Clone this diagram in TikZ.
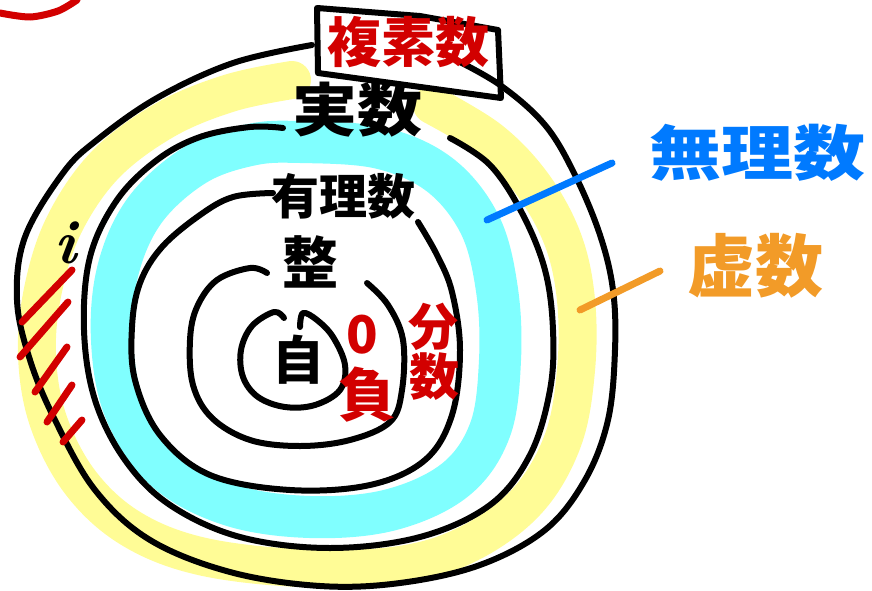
\documentclass[tikz,border=0pt]{standalone}
\usepackage{fontspec}
\newfontfamily\jp{Noto Sans CJK JP}
\definecolor{hlyellow}{RGB}{255,252,150}
\definecolor{hlcyan}{RGB}{128,255,255}
\definecolor{pred}{RGB}{210,0,0}
\definecolor{pblue}{RGB}{0,122,255}
\definecolor{porange}{RGB}{242,155,40}
\tikzset{
  ring/.style={draw=black,line width=6pt,line cap=round,line join=round},
  hl/.style={line width=#1,line cap=round,line join=round},
  lbl/.style={inner sep=0pt,font=\jp\bfseries},
  pen/.style={line width=7pt,line cap=round},
}
\newcommand{\fs}[1]{\fontsize{#1}{#1}\selectfont}
\begin{document}
\begin{tikzpicture}[x=1pt,y=-1pt]
\useasboundingbox (0,0) rectangle (872,591);
% highlight bands
\draw[hlyellow,hl=38pt] plot[smooth,tension=0.6] coordinates {(292,80) (230,93) (165,120) (105,165) (64,225) (43,290) (37,355) (48,420) (80,482) (130,528) (200,556) (300,568) (400,565) (470,543) (528,500) (563,440) (576,370) (576,300) (563,240) (533,185) (490,140) (432,105)};
\draw[hlcyan,hl=42pt] plot[smooth cycle,tension=0.6] coordinates {(300,142) (380,148) (440,175) (480,225) (497,290) (500,360) (490,430) (455,480) (390,510) (310,517) (230,505) (165,470) (125,410) (112,340) (118,270) (145,210) (195,165) (250,145)};
% outer ring
\draw[ring] plot[smooth,tension=0.6] coordinates {(450,57) (500,85) (545,125) (575,175) (600,235) (613,290) (615,350) (608,420) (585,480) (545,530) (480,565) (400,583) (320,586) (230,572) (150,540) (95,490) (55,420) (30,360) (17,300) (25,237) (63,173) (97,140) (157,98) (233,63) (312,45)};
% second ring
\draw[ring] plot[smooth,tension=0.6] coordinates {(283,128) (250,127) (200,137) (157,160) (117,200) (90,257) (84,330) (95,400) (125,460) (170,505) (240,537) (330,548) (420,537) (490,505) (530,455) (550,390) (553,330) (545,270) (522,213) (490,165) (450,138)};
% third ring
\draw[ring] plot[smooth,tension=0.6] coordinates {(273,193) (233,197) (200,215) (162,247) (140,283) (132,327) (135,380) (160,435) (210,475) (290,490) (370,485) (425,460) (452,415) (460,350) (452,292) (437,255) (418,222)};
% fourth ring
\draw[ring] plot[smooth,tension=0.6] coordinates {(267,273) (250,268) (217,280) (197,307) (190,340) (193,385) (212,418) (250,440) (300,446) (350,440) (390,422) (402,390) (403,340) (388,305) (367,283)};
% centre ring
\draw[ring] plot[smooth,tension=0.6] coordinates {(284,318) (274,312) (252,326) (241,350) (243,377) (258,397) (285,407) (315,405) (340,390) (345,365) (333,337) (317,320) (303,313) (300,327)};
% box
\draw[ring] (317,8) -- (420,16) -- (498,30) -- (501,98) -- (318,73) -- cycle;
% partial red circle top left
\draw[pred,pen] plot[smooth] coordinates {(0,13) (30,17) (58,11) (77,0)};
% hatch
\draw[pred,pen] (72,270) -- (22,322);
\draw[pred,pen] (68,302) -- (20,357);
\draw[pred,pen] (67,347) -- (35,392);
\draw[pred,pen] (72,385) -- (47,422);
\draw[pred,pen] (82,420) -- (63,442);
% labels
\node[lbl,text=pred] (cpx) at (408,42) {\fs{54}複素数};
\node[lbl] (real) at (357,110) {\fs{58}\scalebox{1.12}[1]{実数}};
\node[lbl] (rat) at (343,196) {\fs{48}有理数};
\node[lbl] (int) at (310,262) {\fs{56}整};
\node[lbl] (nat) at (298,360) {\fs{52}自};
\node[lbl,text=pred] (zero) at (362,335) {\fs{52}0};
\node[lbl,text=pred] (neg) at (367,395) {\fs{58}負};
\node[lbl,text=pred] (fr1) at (433,327) {\fs{50}分};
\node[lbl,text=pred] (fr2) at (434,377) {\fs{50}数};
\node[lbl,text=pblue] (irr) at (757,153) {\fs{60}\scalebox{1.2}[1]{無理数}};
\node[lbl,text=porange] (ima) at (755,266) {\fs{68}虚数};
\node[inner sep=0pt,font=\bfseries\itshape] (iu) at (66,243) {\fs{62}i};
% connectors
\coordinate (bA) at (612,163);
\coordinate (bB) at (487,220);
\coordinate (oA) at (660,271);
\coordinate (oB) at (580,310);
\draw[pblue,pen] (bA) -- (bB);
\draw[porange,pen] (oA) -- (oB);
\end{tikzpicture}
\end{document}
